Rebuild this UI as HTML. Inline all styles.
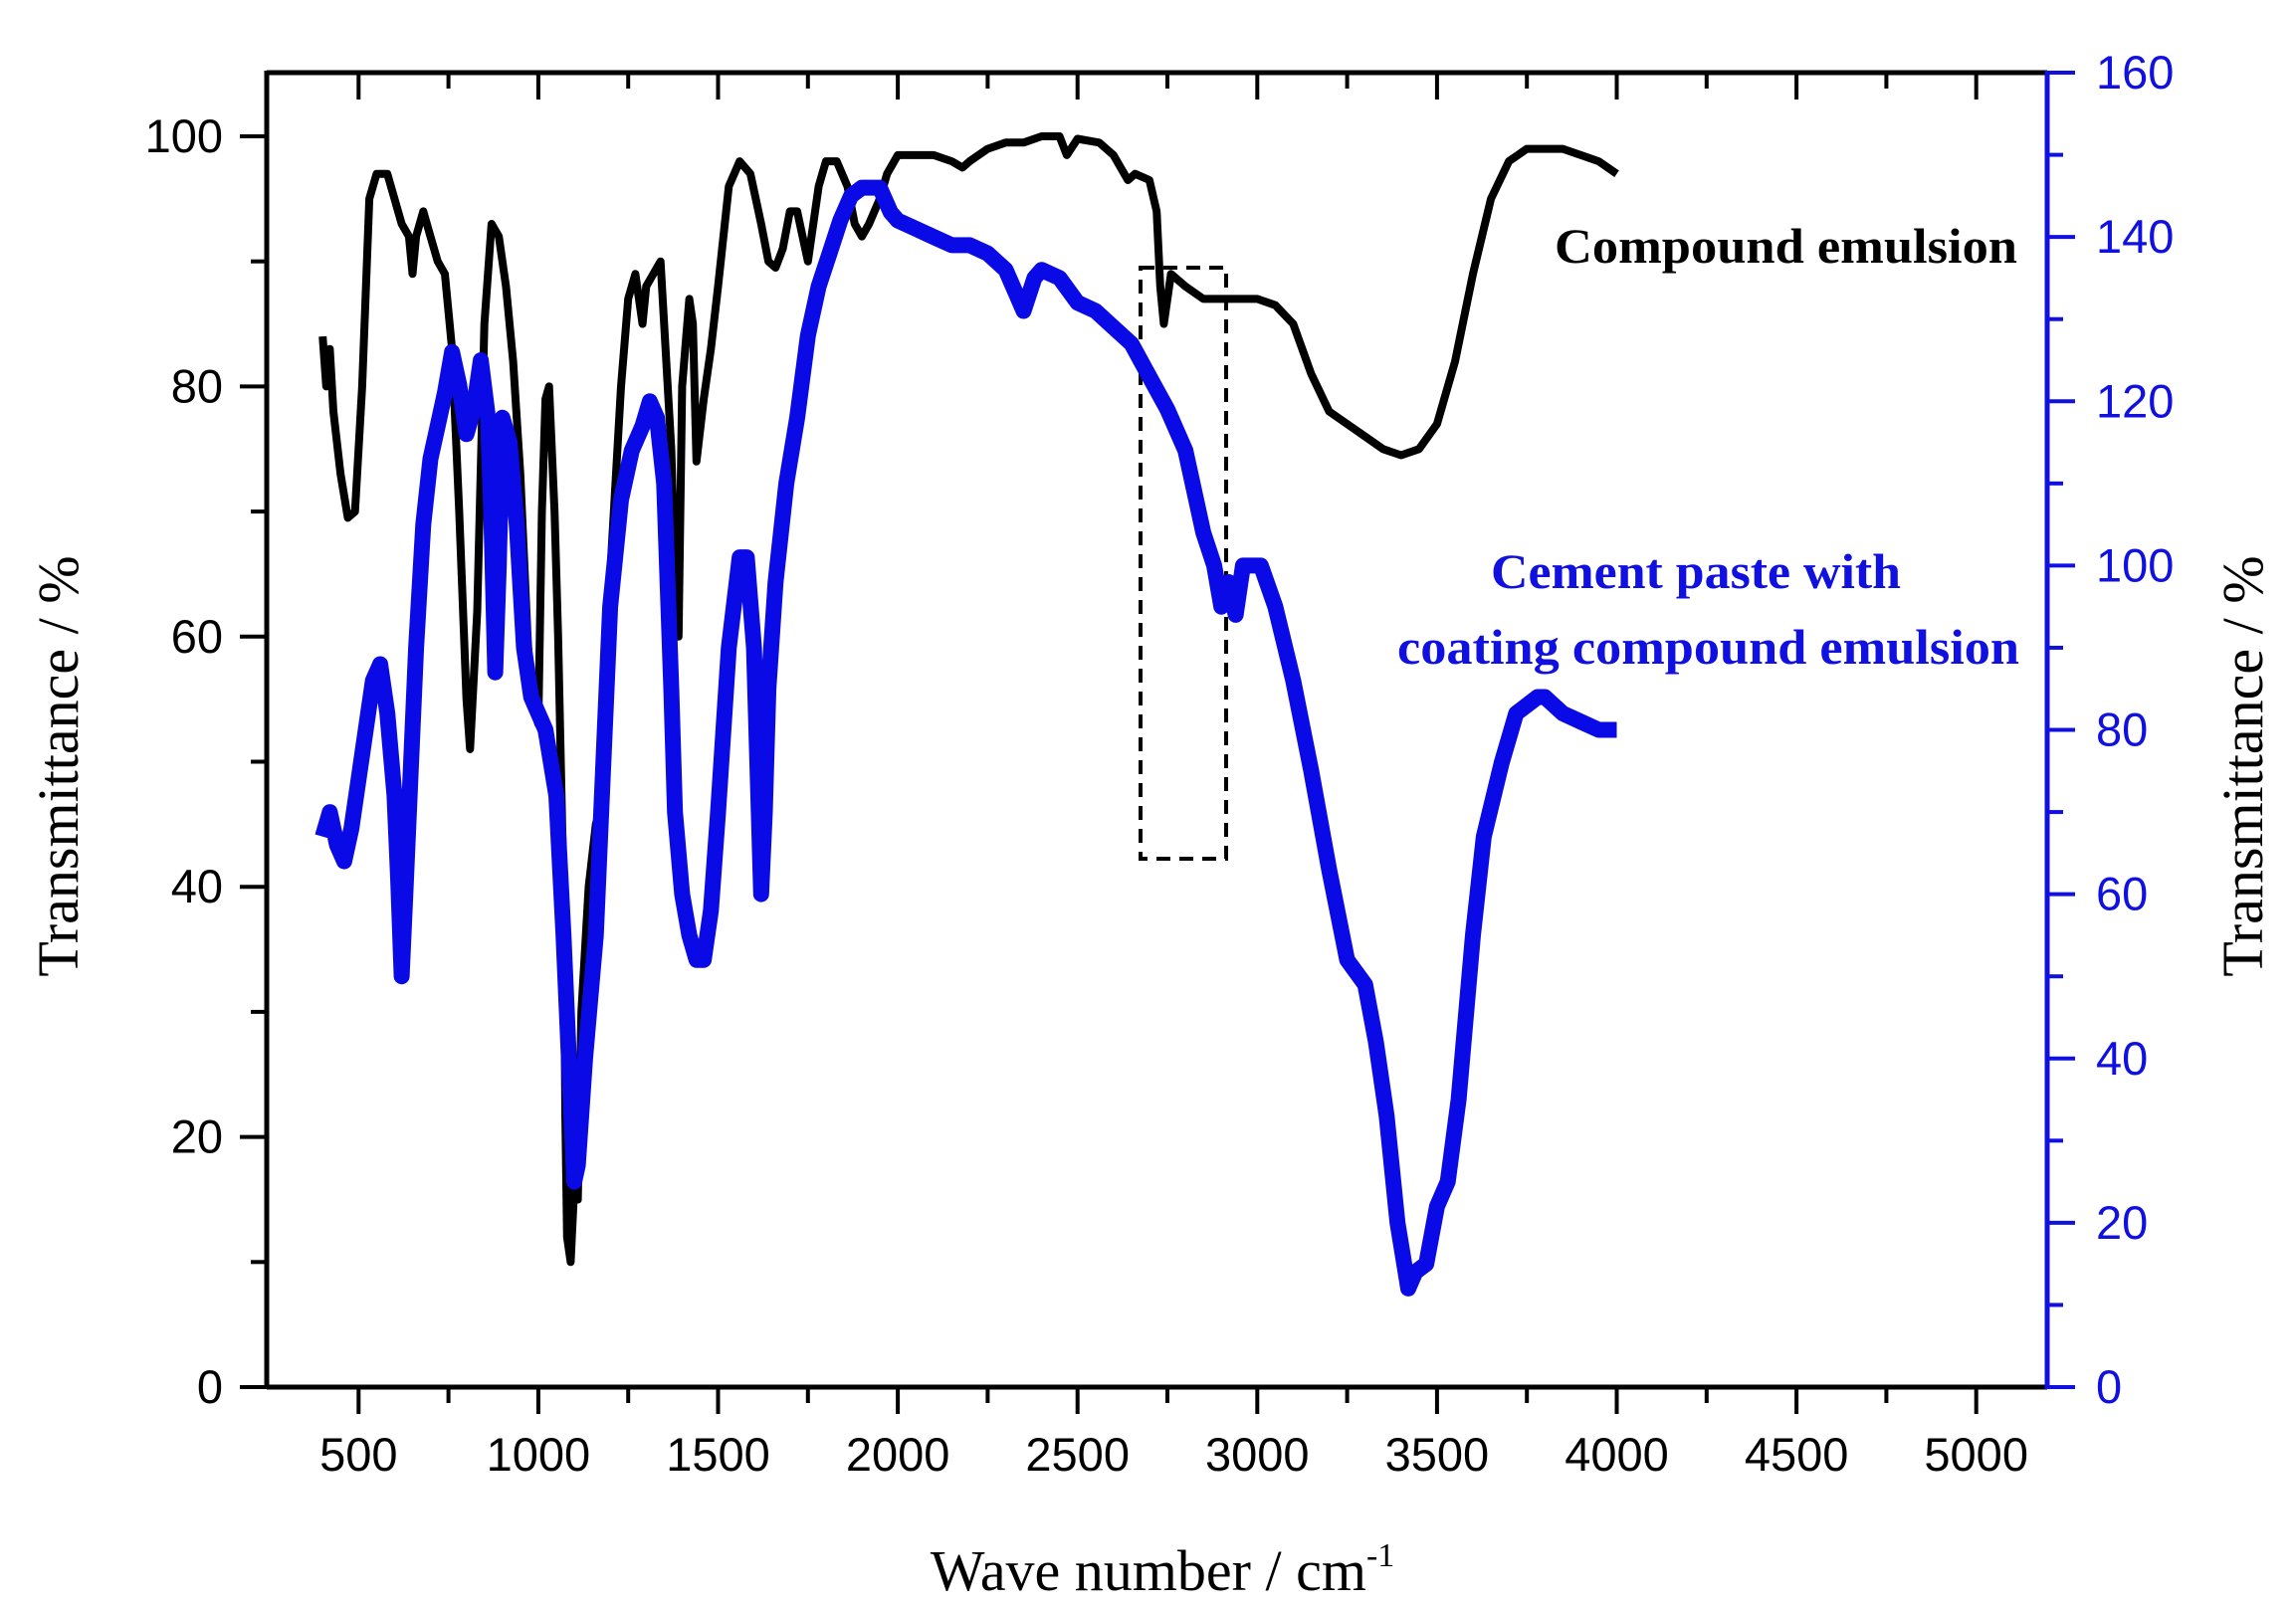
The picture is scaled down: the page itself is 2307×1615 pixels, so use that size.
<!DOCTYPE html>
<html><head><meta charset="utf-8"><style>html,body{margin:0;padding:0;background:#fff}svg{display:block}</style></head>
<body>
<svg id="s" width="2307" height="1615" xmlns="http://www.w3.org/2000/svg">
<g font-family="Liberation Serif, serif">
<text x="0" y="0" font-size="58" transform="translate(78,770) rotate(-90)" text-anchor="middle">Transmittance / %</text>
<text x="0" y="0" font-size="58" transform="translate(2273,770) rotate(-90)" text-anchor="middle">Transmittance / %</text>
<text x="1168" y="1598" font-size="58" text-anchor="middle">Wave number / cm<tspan dy="-24" font-size="34">-1</tspan></text>
<text x="1562" y="264" font-size="50" font-weight="bold" textLength="465" lengthAdjust="spacingAndGlyphs">Compound emulsion</text>
<text x="1498" y="591" font-size="50" font-weight="bold" fill="#1010e0" textLength="412" lengthAdjust="spacingAndGlyphs">Cement paste with</text>
<text x="1404" y="667" font-size="50" font-weight="bold" fill="#1010e0" textLength="625" lengthAdjust="spacingAndGlyphs">coating compound emulsion</text>
</g>
<rect x="1146" y="269" width="86" height="594" fill="none" stroke="#000" stroke-width="4" stroke-dasharray="14,9"/>
<g id="g"></g>
</svg>
<script>
var NS="http://www.w3.org/2000/svg",g=document.getElementById('g');
function X(w){return 270+(w-250)*0.3612}
function YL(t){return 1394-t*12.57}
function YR(r){return 1394-r*8.256}
function el(n,a,txt){var e=document.createElementNS(NS,n);for(var k in a)e.setAttribute(k,a[k]);if(txt!=null)e.textContent=txt;g.appendChild(e);return e}
function line(x1,y1,x2,y2,c,w){el('line',{x1:x1,y1:y1,x2:x2,y2:y2,stroke:c,'stroke-width':w})}
var B=[400,84,410,80,420,83,430,78,450,73,470,69.5,490,70,510,80,530,95,550,97,580,97,600,95,620,93,640,92,650,89,660,92,680,94,700,92,720,90,740,89,760,83,780,70,800,55,810,51,830,62,850,85,870,93,890,92,910,88,930,82,950,73,970,60,980,55,1000,53,1010,70,1020,79,1030,80,1045,70,1055,60,1070,40,1075,22,1080,12,1090,10,1100,16,1110,15,1120,30,1140,40,1160,45,1170,46,1190,60,1210,70,1230,80,1250,87,1270,89,1290,85,1300,88,1320,89,1340,90,1350,85,1370,75,1380,65,1390,60,1400,80,1420,87,1430,85,1440,74,1460,79,1480,83,1500,88,1530,96,1560,98,1590,97,1620,93,1640,90,1660,89.5,1680,91,1700,94,1720,94,1750,90,1780,96,1800,98,1830,98,1860,96,1880,93,1900,92,1920,93,1950,95,1970,97,2000,98.5,2100,98.5,2150,98,2180,97.5,2200,98,2250,99,2300,99.5,2350,99.5,2400,100,2450,100,2470,98.5,2500,99.8,2560,99.5,2600,98.5,2640,96.5,2660,97,2700,96.5,2720,94,2730,88,2740,85,2760,89,2800,88,2850,87,3000,87,3050,86.5,3100,85,3150,81,3200,78,3250,77,3300,76,3350,75,3400,74.5,3450,75,3500,77,3550,82,3600,89,3650,95,3700,98,3750,99,3850,99,3900,98.5,3950,98,4000,97];
var R=[400,67,420,70,440,66,460,64,480,68,500,74,520,80,540,86,560,88,580,82,600,72,610,62,620,50,630,60,640,70,660,90,680,105,700,113,720,117,740,121,760,126,780,122,800,116,820,119,840,125,860,118,870,105,880,87,890,100,900,118,920,115,940,105,960,90,980,84,1000,82,1020,80,1050,72,1070,55,1090,35,1100,25,1110,27,1130,40,1160,55,1180,75,1200,95,1230,108,1260,114,1290,117,1310,120,1330,118,1350,110,1370,85,1380,70,1400,60,1420,55,1440,52,1460,52,1480,58,1500,70,1530,90,1560,101,1580,101,1600,90,1620,60,1630,70,1640,85,1660,98,1690,110,1720,118,1750,128,1780,134,1810,138,1840,142,1870,145,1900,146,1950,146,1980,143,2000,142,2050,141,2100,140,2150,139,2200,139,2250,138,2300,136,2350,131,2380,135,2400,136,2450,135,2500,132,2550,131,2600,129,2650,127,2700,123,2750,119,2800,114,2820,110,2850,104,2880,100,2900,95,2920,98,2940,94,2960,100,2990,100,3010,100,3050,95,3100,86,3150,75,3200,63,3250,52,3300,49,3330,42,3360,33,3390,20,3420,12,3440,14,3470,15,3500,22,3530,25,3560,35,3600,55,3630,67,3680,76,3720,82,3750,83,3780,84,3800,84,3850,82,3900,81,3950,80,4000,80];
function path(a,fy){var d='';for(var i=0;i<a.length;i+=2)d+=(i?'L':'M')+X(a[i]).toFixed(1)+','+fy(a[i+1]).toFixed(1);return d}
el('path',{d:path(B,YL),fill:'none',stroke:'#000','stroke-width':8,'stroke-linejoin':'round'});
el('path',{d:path(R,YR),fill:'none',stroke:'#0a0ae6','stroke-width':16,'stroke-linejoin':'round'});
line(268,73,2057,73,'#000',5);line(268,1394,2057,1394,'#000',5);line(268,71,268,1396,'#000',5);
line(2057,71,2057,1396,'#1010e0',5);
for(var w=500;w<=5000;w+=250){var mj=w%500==0,L=mj?27:16,x=X(w);line(x,1394,x,1394+L,'#000',4);line(x,73,x,73+L,'#000',4);
 if(mj)el('text',{x:x,y:1478,'font-size':47,'font-family':'Liberation Sans, sans-serif','text-anchor':'middle'},w)}
line(268,1394,241,1394,'#000',4);
for(var t=0;t<=105;t+=10){var y=YL(t),mj=t%20==0;line(268,y,mj?241:252,y,'#000',4);
 if(mj)el('text',{x:224,y:y+16,'font-size':47,'font-family':'Liberation Sans, sans-serif','text-anchor':'end'},t)}
for(var r=0;r<=160;r+=10){var y=YR(r),mj=r%20==0;line(2057,y,mj?2085:2073,y,'#1010e0',4);
 if(mj)el('text',{x:2106,y:y+16,'font-size':47,'font-family':'Liberation Sans, sans-serif',fill:'#1010e0'},r)}
</script>
</body></html>
